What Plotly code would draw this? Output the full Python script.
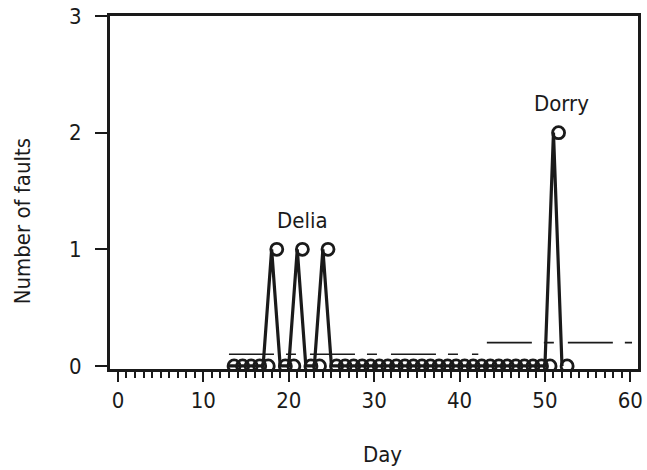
import plotly.graph_objects as go

# Daily fault counts
days = [13, 14, 15, 16, 17, 18, 19, 20, 21, 22, 23, 24, 25, 26, 27, 28, 29, 30,
        31, 32, 33, 34, 35, 36, 37, 38, 39, 40, 41, 42, 43, 44, 45, 46, 47, 48,
        49, 50, 51, 52]
faults = [0, 0, 0, 0, 0, 1, 0, 0, 1, 0, 0, 1, 0, 0, 0, 0, 0, 0,
          0, 0, 0, 0, 0, 0, 0, 0, 0, 0, 0, 0, 0, 0, 0, 0, 0, 0,
          0, 0, 2, 0]

# Threshold levels over two periods
thresh1_x = [13.0, 42.2]
thresh1_y = [0.1, 0.1]
thresh2_x = [43.2, 60.2]
thresh2_y = [0.2, 0.2]

# Storm labels
storm_names = ["Delia", "Dorry"]
storm_x = [21.6, 51.9]
storm_y = [1.25, 2.25]

x_ticks = [0, 10, 20, 30, 40, 50, 60]
y_ticks = [0, 1, 2, 3]

INK = "#1a1a1a"
FONT = "Liberation Sans Narrow, DejaVu Sans Condensed, Roboto, sans-serif"
FS = 22
MARK_SHIFT = 0.6  # circles sit just to the right of each vertex

fig = go.Figure()

dash = "45px,12px,10px,14px"
for tx, ty in [(thresh1_x, thresh1_y), (thresh2_x, thresh2_y)]:
    fig.add_trace(go.Scatter(x=tx, y=ty, mode="lines",
                             line=dict(color=INK, width=1.6, dash=dash),
                             hoverinfo="skip", showlegend=False))

fig.add_trace(go.Scatter(x=days, y=faults, mode="lines",
                         line=dict(color=INK, width=3.2),
                         showlegend=False))
fig.add_trace(go.Scatter(x=[d + MARK_SHIFT for d in days], y=faults, mode="markers",
                         marker=dict(symbol="circle-open", size=12, color=INK,
                                     line=dict(color=INK, width=2.8)),
                         showlegend=False))

for name, sx, sy in zip(storm_names, storm_x, storm_y):
    fig.add_annotation(x=sx, y=sy, text=name, showarrow=False,
                       font=dict(family=FONT, size=FS, color=INK))

# Axis titles
fig.add_annotation(xref="paper", yref="paper", x=-0.165, y=0.418,
                   text="Number of faults", textangle=-90, showarrow=False,
                   xanchor="center", yanchor="middle",
                   font=dict(family=FONT, size=FS, color=INK))
fig.add_annotation(xref="paper", yref="paper", x=0.516, y=-0.243,
                   text="Day", showarrow=False,
                   xanchor="center", yanchor="middle",
                   font=dict(family=FONT, size=FS, color=INK))

fig.update_layout(
    width=647, height=470,
    margin=dict(l=110, r=4, t=15, b=101),
    paper_bgcolor="white", plot_bgcolor="white",
    font=dict(family=FONT, size=FS, color=INK),
)
fig.update_xaxes(
    range=[-0.93, 60.9], tickvals=x_ticks, ticktext=[str(v) for v in x_ticks],
    ticks="outside", ticklen=10, tickwidth=2, tickcolor=INK,
    minor=dict(dtick=1, tick0=0, ticks="outside", ticklen=6, tickwidth=1.5, tickcolor=INK),
    showline=True, linewidth=3, linecolor=INK, mirror=True,
    showgrid=False, zeroline=False,
)
fig.update_yaxes(
    range=[-0.026, 3.0], tickvals=y_ticks, ticktext=[str(v) for v in y_ticks],
    ticks="outside", ticklen=12, tickwidth=2, tickcolor=INK,
    ticklabelstandoff=9,
    showline=True, linewidth=3, linecolor=INK, mirror=True,
    showgrid=False, zeroline=False,
)

fig.write_html("out.html")
